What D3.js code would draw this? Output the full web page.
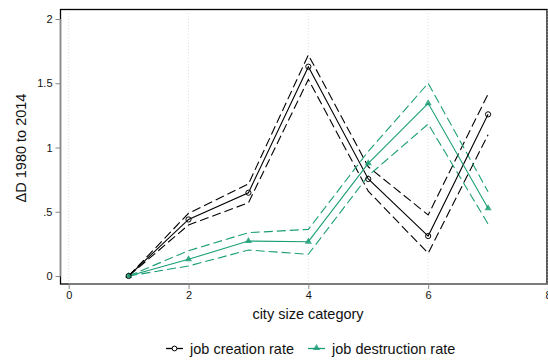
<!DOCTYPE html>
<html><head><meta charset="utf-8">
<script src="https://cdn.jsdelivr.net/npm/d3@7"></script>
<style>body{margin:0;background:#fff}svg{display:block}text{font-family:"Liberation Sans",Arial,Helvetica,sans-serif}</style>
</head><body>
<svg id="c" width="548" height="360"></svg>
<script>
const categories = [1,2,3,4,5,6,7];
const creation = [0, 0.44, 0.648, 1.629, 0.755, 0.311, 1.258];
const creationHi = [0, 0.488, 0.716, 1.72, 0.85, 0.475, 1.416];
const creationLo = [0, 0.397, 0.57, 1.53, 0.66, 0.177, 1.10];
const destruction = [0, 0.13, 0.272, 0.267, 0.877, 1.344, 0.527];
const destructionHi = [0, 0.197, 0.337, 0.363, 0.97, 1.50, 0.656];
const destructionLo = [0, 0.078, 0.202, 0.169, 0.78, 1.183, 0.405];
const xTicks = [0,2,4,6,8];
const yTicks = [0,0.5,1,1.5,2];
const yTickLabels = ["0",".5","1","1.5","2"];
const seriesNames = ["job creation rate","job destruction rate"];
const GREEN = "#1b9e77";

const svg = d3.select("#c");
const x = d3.scaleLinear().domain([0,8]).range([68.7,548]);
const y = d3.scaleLinear().domain([0,2]).range([276,19]);

svg.append("rect").attr("x",60.5).attr("y",9.5).attr("width",486.5).attr("height",274.5)
  .attr("fill","none").attr("stroke","#000").attr("stroke-width",1.3);

svg.append("g").selectAll("line").data(xTicks).join("line")
  .attr("x1",d=>x(d)).attr("x2",d=>x(d)).attr("y1",10).attr("y2",283)
  .attr("stroke","#d8d8d8").attr("stroke-width",0.8).attr("stroke-dasharray","1,2");

const yAxis = d3.axisLeft(y).tickValues(yTicks).tickFormat((d,i)=>yTickLabels[i]).tickSize(5).tickPadding(3);
const gy = svg.append("g").attr("transform","translate(60.5,0)").call(yAxis);
const xAxis = d3.axisBottom(x).tickValues(xTicks).tickSize(5).tickPadding(2);
const gx = svg.append("g").attr("transform","translate(0,284)").call(xAxis);
[gy,gx].forEach(g=>{
  g.select(".domain").remove();
  g.selectAll(".tick line").attr("stroke","#888");
  g.selectAll(".tick text").attr("fill","#111").style("font-size","11px").style("font-family","'Liberation Sans',Arial,sans-serif");
});
svg.append("line").attr("x1",60.5).attr("x2",60.5).attr("y1",y(0)).attr("y2",y(2)).attr("stroke","#888").attr("stroke-width",1.3);
svg.append("line").attr("x1",x(0)).attr("x2",x(8)).attr("y1",284).attr("y2",284).attr("stroke","#888").attr("stroke-width",1.3);

svg.append("text").attr("transform","translate(26,148) rotate(-90)").attr("text-anchor","middle")
  .style("font-size","14.5px").attr("fill","#111").text("ΔD 1980 to 2014");
svg.append("text").attr("x",308).attr("y",319).attr("text-anchor","middle")
  .style("font-size","14.5px").attr("fill","#111").text("city size category");

const line = d3.line().x((d,i)=>x(categories[i])).y(d=>y(d));
function drawLine(vals,color,dash,w){
  svg.append("path").datum(vals).attr("d",line).attr("fill","none").attr("stroke",color)
    .attr("stroke-width",w).attr("stroke-dasharray",dash);
}
drawLine(creationHi,"#000","9,4",1.1);
drawLine(creationLo,"#000","9,4",1.1);
drawLine(destructionHi,GREEN,"9,4",1.1);
drawLine(destructionLo,GREEN,"9,4",1.1);
drawLine(creation,"#000",null,1.1);
drawLine(destruction,GREEN,null,1.1);

const tri = d3.symbol().type(d3.symbolTriangle).size(22);
svg.append("g").selectAll("path").data(destruction).join("path")
  .attr("transform",(d,i)=>`translate(${x(categories[i])},${y(d)})`).attr("d",tri)
  .attr("fill",GREEN).attr("fill-opacity",0.85);
svg.append("g").selectAll("circle").data(creation).join("circle")
  .attr("cx",(d,i)=>x(categories[i])).attr("cy",d=>y(d)).attr("r",2.6)
  .attr("fill","none").attr("stroke","#000").attr("stroke-width",1);

const leg = [{x:166,color:"#000",name:seriesNames[0],m:"c"},{x:308,color:GREEN,name:seriesNames[1],m:"t"}];
leg.forEach(l=>{
  svg.append("line").attr("x1",l.x).attr("x2",l.x+17).attr("y1",348.5).attr("y2",348.5).attr("stroke",l.color).attr("stroke-width",1.3);
  if(l.m==="c") svg.append("circle").attr("cx",l.x+8.5).attr("cy",348.5).attr("r",2.4).attr("fill","#fff").attr("stroke","#000");
  else svg.append("path").attr("transform",`translate(${l.x+8.5},348)`).attr("d",tri).attr("fill",l.color).attr("fill-opacity",0.85);
  svg.append("text").attr("x",l.x+24).attr("y",354).style("font-size","14.5px").attr("fill","#111").text(l.name);
});
</script>
</body></html>
